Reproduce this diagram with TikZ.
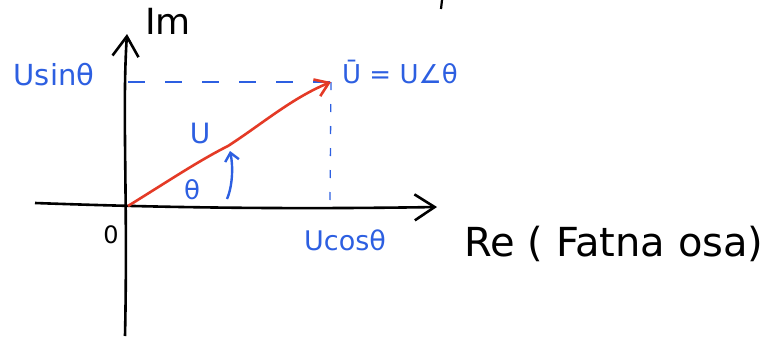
\documentclass[tikz,border=0pt]{standalone}
\usepackage{fontspec}
\setmainfont{DejaVu Sans}
\usetikzlibrary{arrows.meta}
\definecolor{penblue}{RGB}{45,95,225}
\definecolor{penred}{RGB}{228,58,38}

\begin{document}
\begin{tikzpicture}[x=1pt,y=-1pt,>={Straight Barb[length=20pt,width=26pt]}]
\useasboundingbox (0,0) rectangle (766,338);
\coordinate (O) at (128,206);
\coordinate (X0) at (35,203);
\coordinate (X1) at (437,207);
\coordinate (Y0) at (125,336);
\coordinate (Y1) at (127,34);
\coordinate (P) at (331,82);
\coordinate (S) at (128,82);
\coordinate (C) at (330,202);
\coordinate (T0) at (227,199);
\coordinate (T1) at (230,151);

\draw[line width=2.6pt,->] (X0) .. controls (120,206) and (250,210) .. (X1);
\draw[line width=2.6pt,->] (Y0) .. controls (128,200) and (122,110) .. (Y1);

\draw[penblue,line width=1.3pt,dash pattern=on 17pt off 20pt] (S) -- (P);
\draw[penblue,line width=1.3pt,dash pattern=on 8pt off 14pt] (P) -- (C);

\draw[penred,line width=2.6pt,->,>={Straight Barb[length=13pt,width=18pt]}] (O) .. controls (170,180) and (200,160) .. (228,146) .. controls (262,124) and (292,98) .. (P);

\draw[penblue,line width=2.4pt,->,>={Straight Barb[length=8pt,width=14pt]}] (T0) .. controls (233,185) and (233,165) .. (T1);

\draw[line width=2.2pt] (442,0) -- (441,9);

\node[penblue,font=\fontsize{29}{29}\selectfont] (sin) at (54,75) {Usinθ};
\node[penblue,font=\fontsize{27}{27}\selectfont] (cos) at (345,240) {Ucosθ};
\node[penblue,font=\fontsize{26}{26}\selectfont] (phasor) at (400,72) {Ū = U∠θ};
\node[penblue,font=\fontsize{28}{28}\selectfont] (mag) at (200,133) {U};
\node[penblue,font=\fontsize{26}{26}\selectfont] (ang) at (192,190) {θ};
\node[font=\fontsize{24}{24}\selectfont] (zero) at (111,235) {0};
\node[font=\fontsize{36}{36}\selectfont] (im) at (168,21) {Im};
\node[font=\fontsize{40}{40}\selectfont] (re) at (614,244) {Re ( Fatna osa)};
\end{tikzpicture}
\end{document}
